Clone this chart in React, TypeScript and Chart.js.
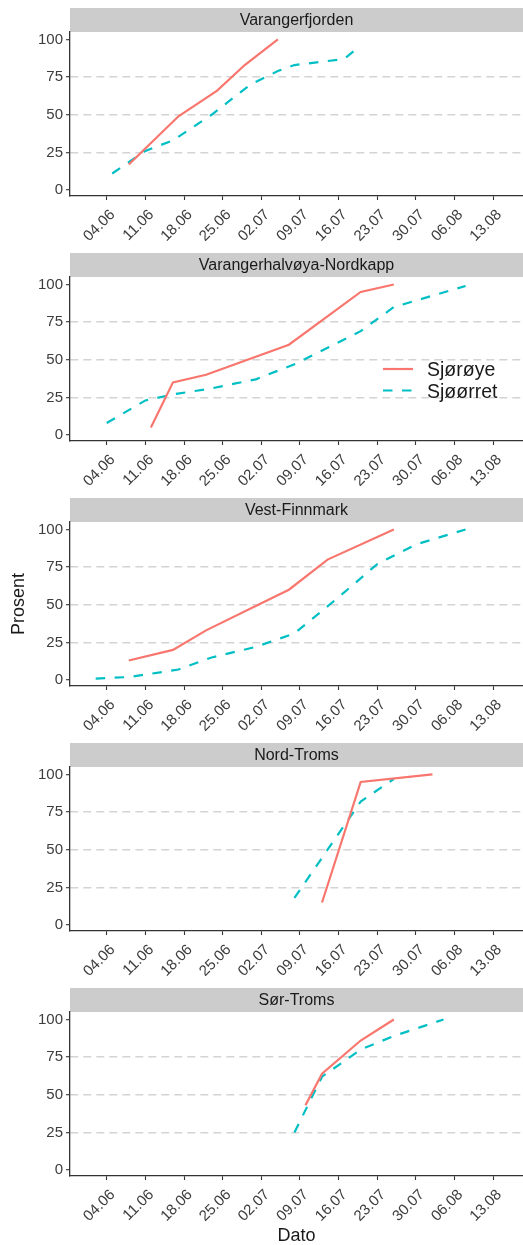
import React, { useEffect, useRef } from "react";
import { Chart, registerables } from "chart.js";

Chart.register(...registerables);

// Facet titles and series names
const REGIONS = [
  "Varangerfjorden",
  "Varangerhalvøya-Nordkapp",
  "Vest-Finnmark",
  "Nord-Troms",
  "Sør-Troms",
];
const SERIES = ["Sjørøye", "Sjøørret"];

// Axis ticks
const DATE_TICKS = ["04.06", "11.06", "18.06", "25.06", "02.07", "09.07", "16.07", "23.07", "30.07", "06.08", "13.08"];
const PERCENT_TICKS = [0, 25, 50, 75, 100];

// Varangerfjorden
const vfjSjoroyeDato = ["08.06", "17.06", "24.06", "29.06", "05.07"];
const vfjSjoroyeProsent = [17, 49, 66, 83, 100];
const vfjSjoorretDato = ["05.06", "11.06", "16.06", "23.06", "30.06", "05.07", "08.07", "17.07", "20.07"];
const vfjSjoorretProsent = [11, 26, 33, 50, 70, 79, 83, 87, 96];

// Varangerhalvøya-Nordkapp
const vnkSjoroyeDato = ["12.06", "16.06", "22.06", "07.07", "20.07", "26.07"];
const vnkSjoroyeProsent = [5, 35, 40, 60, 95, 100];
const vnkSjoorretDato = ["04.06", "11.06", "16.06", "23.06", "01.07", "08.07", "20.07", "26.07", "08.08"];
const vnkSjoorretProsent = [8, 23, 27, 31, 37, 47, 69, 85, 99];

// Vest-Finnmark
const vfmSjoroyeDato = ["08.06", "16.06", "22.06", "02.07", "07.07", "14.07", "26.07"];
const vfmSjoroyeProsent = [13, 20, 33, 51, 60, 80, 100];
const vfmSjoorretDato = ["02.06", "08.06", "17.06", "23.06", "01.07", "08.07", "16.07", "23.07", "30.07", "08.08"];
const vfmSjoorretProsent = [1, 2, 7, 15, 22, 31, 55, 77, 90, 100];

// Nord-Troms
const ntrSjoroyeDato = ["13.07", "20.07", "02.08"];
const ntrSjoroyeProsent = [15, 95, 100];
const ntrSjoorretDato = ["08.07", "20.07", "26.07"];
const ntrSjoorretProsent = [18, 82, 97];

// Sør-Troms
const strSjoroyeDato = ["10.07", "13.07", "20.07", "26.07"];
const strSjoroyeProsent = [43, 64, 86, 100];
const strSjoorretDato = ["08.07", "13.07", "20.07", "26.07", "04.08"];
const strSjoorretProsent = [25, 62, 80, 89, 100];

const PANELS = [
  { sjoroye: [vfjSjoroyeDato, vfjSjoroyeProsent], sjoorret: [vfjSjoorretDato, vfjSjoorretProsent] },
  { sjoroye: [vnkSjoroyeDato, vnkSjoroyeProsent], sjoorret: [vnkSjoorretDato, vnkSjoorretProsent] },
  { sjoroye: [vfmSjoroyeDato, vfmSjoroyeProsent], sjoorret: [vfmSjoorretDato, vfmSjoorretProsent] },
  { sjoroye: [ntrSjoroyeDato, ntrSjoroyeProsent], sjoorret: [ntrSjoorretDato, ntrSjoorretProsent] },
  { sjoroye: [strSjoroyeDato, strSjoroyeProsent], sjoorret: [strSjoorretDato, strSjoorretProsent] },
];

const FONT = '"Liberation Sans", Arial, sans-serif';
const RED = "#F8766D";
const TEAL = "#00BFC4";
const AXIS = "#333333";
const TICK_TEXT = "#3d3d3d";

const PANEL_STEP = 245;
const PANEL_H = 245;
const LAST_PANEL_H = 265;
const WIDTH = 523;

// "dd.mm" -> days after 04.06
const dayOf = (s: string) => {
  const [d, m] = s.split(".").map(Number);
  return (Date.UTC(2021, m - 1, d) - Date.UTC(2021, 5, 4)) / 86400000;
};
const TICK_DAYS = DATE_TICKS.map(dayOf);

const toPoints = (dates: string[], values: number[]) =>
  dates.map((d, i) => ({ x: dayOf(d), y: values[i] }));

// Grey facet strip with its title above the plotting area
const stripPlugin = {
  id: "strip",
  beforeDraw(chart: any, _args: any, opts: any) {
    const { ctx, chartArea } = chart;
    ctx.save();
    ctx.fillStyle = "#CCCCCC";
    ctx.fillRect(chartArea.left, opts.top, chart.width - chartArea.left, chartArea.top - opts.top);
    ctx.fillStyle = "#1A1A1A";
    ctx.font = `16px ${FONT}`;
    ctx.textAlign = "center";
    ctx.textBaseline = "middle";
    ctx.fillText(opts.text, (chartArea.left + chart.width) / 2, (opts.top + chartArea.top) / 2 + 1);
    ctx.restore();
  },
};

// Key drawn inside one facet
const facetLegendPlugin = {
  id: "facetLegend",
  afterDatasetsDraw(chart: any, _args: any, opts: any) {
    if (!opts || !opts.show) return;
    const ctx = chart.ctx;
    chart.data.datasets.forEach((ds: any, i: number) => {
      const y = opts.y + i * opts.rowGap;
      ctx.save();
      ctx.strokeStyle = ds.borderColor;
      ctx.lineWidth = ds.borderWidth;
      ctx.setLineDash(ds.borderDash || []);
      ctx.beginPath();
      ctx.moveTo(opts.x, y);
      ctx.lineTo(opts.x + opts.lineLen, y);
      ctx.stroke();
      ctx.setLineDash([]);
      ctx.fillStyle = "#1A1A1A";
      ctx.font = `19.5px ${FONT}`;
      ctx.textAlign = "left";
      ctx.textBaseline = "middle";
      ctx.fillText(ds.label, opts.x + opts.textGap, y + 2);
      ctx.restore();
    });
  },
};

function makeConfig(index: number): any {
  const panel = PANELS[index];
  const last = index === PANELS.length - 1;
  return {
    type: "line",
    data: {
      datasets: [
        {
          label: SERIES[0],
          data: toPoints(panel.sjoroye[0] as string[], panel.sjoroye[1] as number[]),
          borderColor: RED,
          backgroundColor: RED,
          borderWidth: 2.2,
          pointRadius: 0,
          tension: 0,
          fill: false,
        },
        {
          label: SERIES[1],
          data: toPoints(panel.sjoorret[0] as string[], panel.sjoorret[1] as number[]),
          borderColor: TEAL,
          backgroundColor: TEAL,
          borderWidth: 2.2,
          borderDash: [9.5, 9.5],
          pointRadius: 0,
          tension: 0,
          fill: false,
        },
      ],
    },
    plugins: [stripPlugin, facetLegendPlugin],
    options: {
      animation: false,
      responsive: false,
      maintainAspectRatio: false,
      events: [],
      layout: { padding: { top: 32, left: 0, right: 0, bottom: 0 } },
      plugins: {
        legend: { display: false },
        tooltip: { enabled: false },
        strip: { text: REGIONS[index], top: 8 },
        facetLegend: { show: index === 1, x: 383, y: 124, rowGap: 21.5, lineLen: 30, textGap: 44 },
      },
      scales: {
        x: {
          type: "linear",
          min: -6.65,
          max: 75.4,
          afterBuildTicks: (s: any) => {
            s.ticks = TICK_DAYS.map((value) => ({ value }));
          },
          afterFit: (s: any) => {
            s.height = last ? LAST_PANEL_H - 196 : PANEL_H - 196;
            s.paddingLeft = 0;
            s.paddingRight = 0;
          },
          ticks: {
            autoSkip: false,
            minRotation: 45,
            maxRotation: 45,
            padding: 6,
            labelOffset: 6,
            color: TICK_TEXT,
            font: { family: FONT, size: 15 },
            callback: (v: number) => {
              const i = TICK_DAYS.indexOf(v);
              return i >= 0 ? DATE_TICKS[i] : "";
            },
          },
          grid: {
            display: true,
            drawOnChartArea: false,
            drawTicks: true,
            tickLength: 4,
            tickColor: AXIS,
            tickWidth: 1.1,
            tickBorderDash: [],
          },
          border: { display: true, color: AXIS, width: 1.3 },
          title: {
            display: last,
            text: "Dato",
            color: "#1A1A1A",
            font: { family: FONT, size: 18, lineHeight: 1 },
            padding: { top: 0, bottom: 0 },
          },
        },
        y: {
          type: "linear",
          min: -3.95,
          max: 104.95,
          afterBuildTicks: (s: any) => {
            s.ticks = PERCENT_TICKS.map((value) => ({ value }));
          },
          afterFit: (s: any) => {
            s.width = 70;
            s.paddingTop = 0;
            s.paddingBottom = 0;
          },
          ticks: {
            autoSkip: false,
            padding: 3,
            color: TICK_TEXT,
            font: { family: FONT, size: 15 },
          },
          grid: {
            display: true,
            drawOnChartArea: true,
            drawTicks: true,
            tickLength: 4,
            tickColor: AXIS,
            tickWidth: 1.1,
            tickBorderDash: [],
            lineWidth: 1.4,
            color: (ctx: any) => {
              const v = ctx.tick ? ctx.tick.value : null;
              return v === 25 || v === 50 || v === 75 ? "#D4D4D4" : "rgba(0,0,0,0)";
            },
          },
          border: { display: true, color: AXIS, width: 1.3, dash: [8, 5] },
          title: {
            display: index === 2,
            text: "Prosent",
            color: "#1A1A1A",
            font: { family: FONT, size: 18 },
            padding: { top: 8, bottom: 0 },
          },
        },
      },
    },
  };
}

function FacetPanel({ index }: { index: number }) {
  const ref = useRef<HTMLCanvasElement | null>(null);
  const last = index === PANELS.length - 1;
  const h = last ? LAST_PANEL_H : PANEL_H;
  useEffect(() => {
    if (!ref.current) return;
    const chart = new Chart(ref.current, makeConfig(index));
    return () => chart.destroy();
  }, [index]);
  return (
    <canvas
      ref={ref}
      width={WIDTH}
      height={h}
      style={{ position: "absolute", left: 0, top: index * PANEL_STEP, width: WIDTH, height: h, display: "block" }}
    />
  );
}

export default function App() {
  return (
    <div
      style={{
        position: "absolute",
        left: 0,
        top: 0,
        width: WIDTH,
        height: 1245,
        overflow: "hidden",
        background: "#FFFFFF",
      }}
    >
      {PANELS.map((_, i) => (
        <FacetPanel key={i} index={i} />
      ))}
    </div>
  );
}
